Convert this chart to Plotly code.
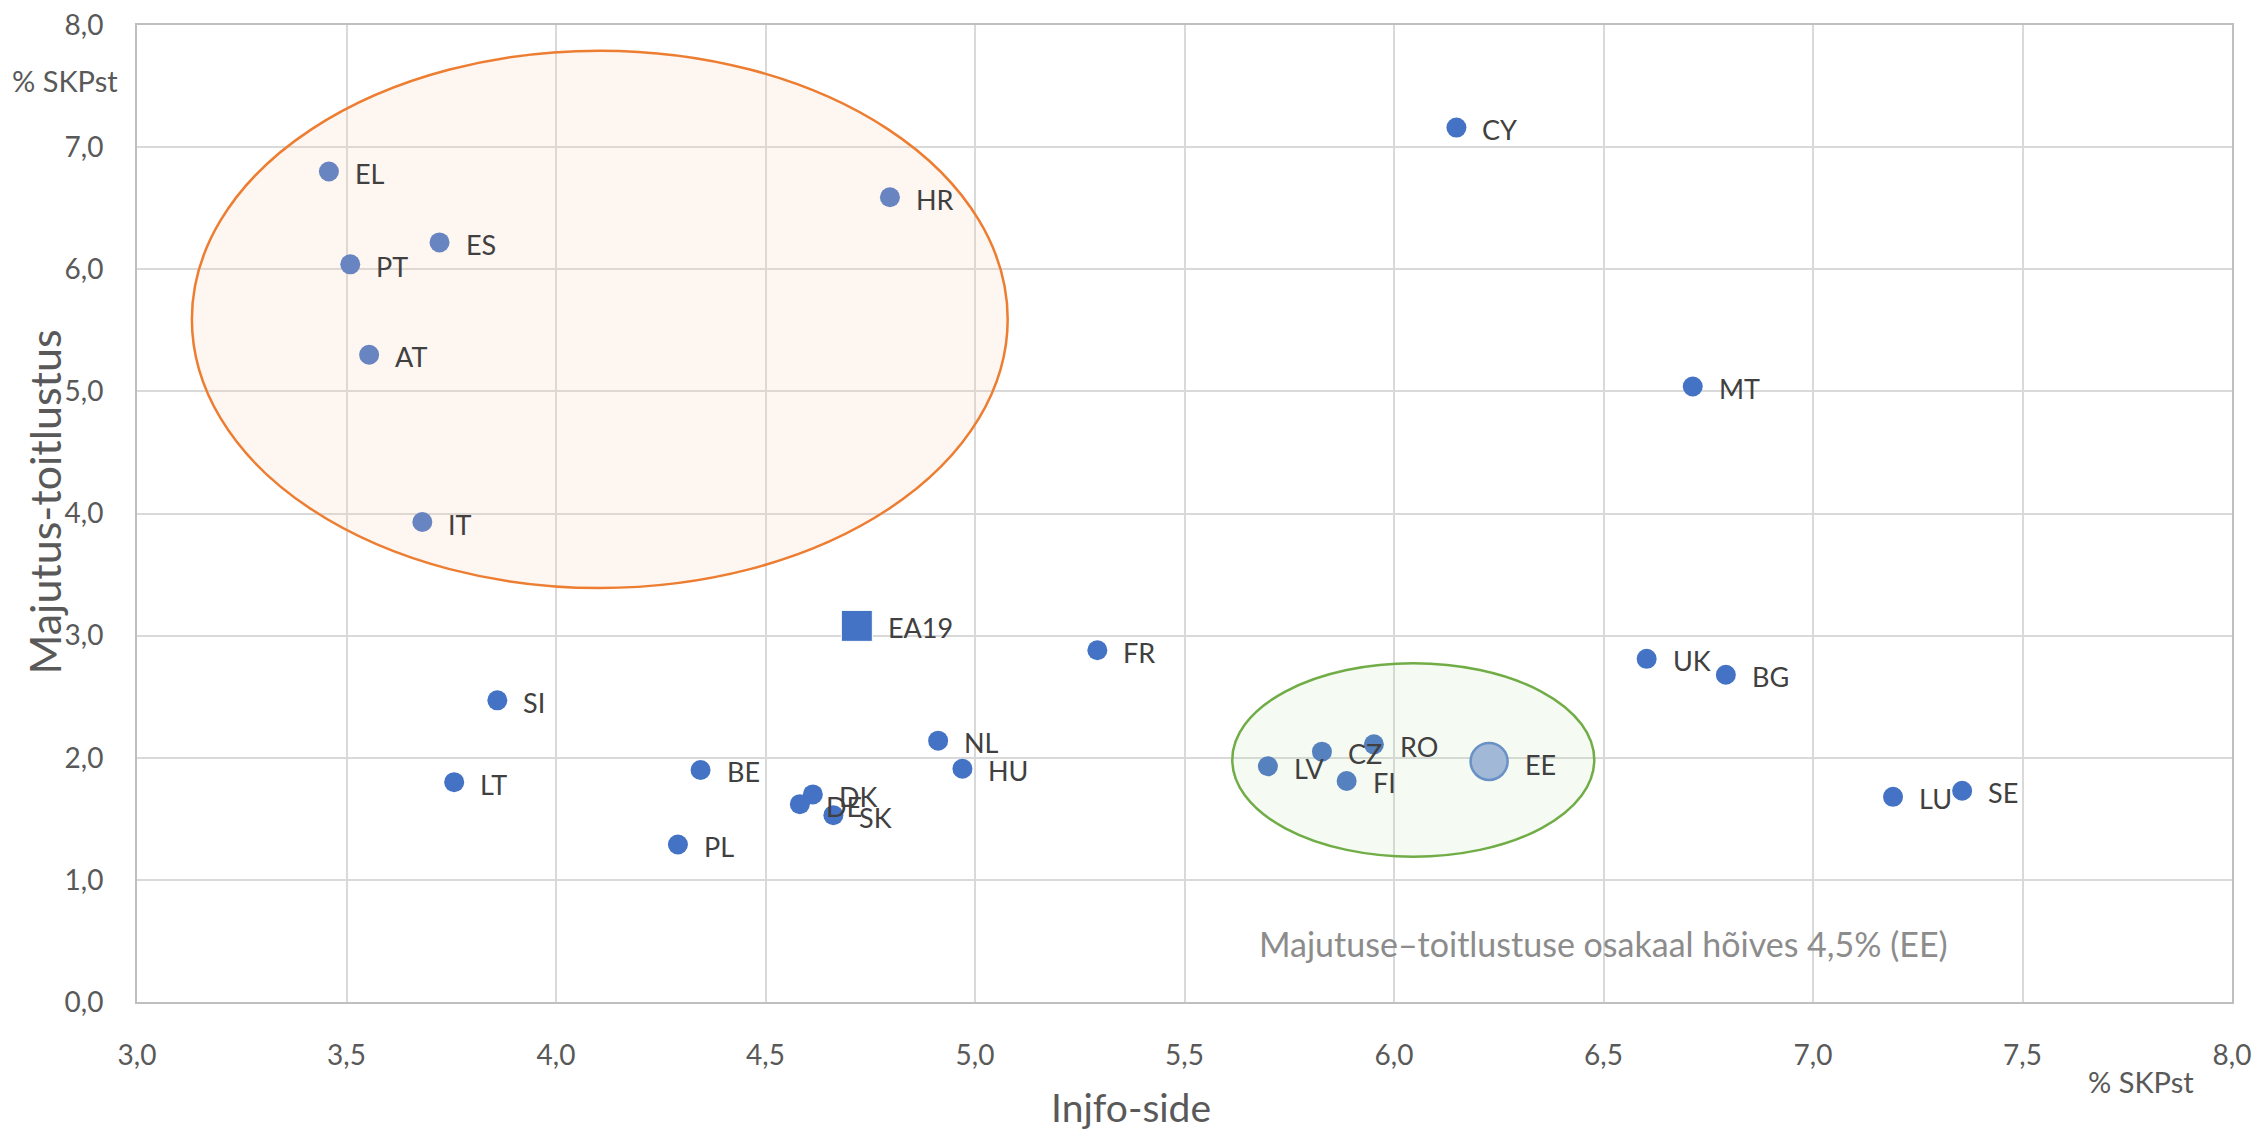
import plotly.graph_objects as go

# riigid ja väärtused (% SKPst)
riigid = ["EL", "HR", "ES", "PT", "AT", "IT", "CY", "MT", "FR", "SI", "UK", "BG",
          "NL", "BE", "HU", "LT", "DK", "DE", "SK", "PL", "LV", "CZ", "RO", "FI",
          "LU", "SE"]
info_side = [3.458, 4.797, 3.722, 3.509, 3.554, 3.681, 6.149, 6.713, 5.292, 3.860,
             6.603, 6.792, 4.912, 4.345, 4.970, 3.757, 4.613, 4.582, 4.662, 4.291,
             5.699, 5.828, 5.952, 5.887, 7.191, 7.356]
majutus = [6.80, 6.59, 6.22, 6.04, 5.30, 3.93, 7.16, 5.04, 2.88, 2.47,
           2.81, 2.68, 2.14, 1.90, 1.91, 1.80, 1.70, 1.62, 1.53, 1.29,
           1.93, 2.05, 2.11, 1.81, 1.68, 1.73]

ea_nimi = ["EA19"]
ea_x = [4.718]
ea_y = [3.08]

ee_nimi = ["EE"]
ee_x = [6.227]
ee_y = [1.97]

x_ticks = [3.0, 3.5, 4.0, 4.5, 5.0, 5.5, 6.0, 6.5, 7.0, 7.5, 8.0]
y_ticks = [0, 1, 2, 3, 4, 5, 6, 7, 8]

FONT = "Lato"
BLUE = "#4472C4"
LBL = "#404040"
GREY = "#595959"

fig = go.Figure()

fig.add_trace(go.Scatter(x=info_side, y=majutus, mode="markers",
                         marker=dict(color=BLUE, size=20, line=dict(width=0)),
                         hoverinfo="text", text=riigid, showlegend=False))
fig.add_trace(go.Scatter(x=ea_x, y=ea_y, mode="markers",
                         marker=dict(color=BLUE, size=31, symbol="square",
                                     line=dict(width=1, color="white")),
                         hoverinfo="text", text=ea_nimi, showlegend=False))
fig.add_trace(go.Scatter(x=ee_x, y=ee_y, mode="markers",
                         marker=dict(color="#9DB3DF", size=37,
                                     line=dict(width=2.5, color="#5B84CC")),
                         hoverinfo="text", text=ee_nimi, showlegend=False))

annots = []
for n, xv, yv in zip(riigid, info_side, majutus):
    annots.append(dict(x=xv, y=yv, text=n, showarrow=False, xanchor="left",
                       yanchor="middle", xshift=24, yshift=-2,
                       font=dict(family=FONT, size=27, color=LBL)))
for n, xv, yv in zip(ea_nimi, ea_x, ea_y):
    annots.append(dict(x=xv, y=yv, text=n, showarrow=False, xanchor="left",
                       yanchor="middle", xshift=29, yshift=-2,
                       font=dict(family=FONT, size=27, color=LBL)))
for n, xv, yv in zip(ee_nimi, ee_x, ee_y):
    annots.append(dict(x=xv, y=yv, text=n, showarrow=False, xanchor="left",
                       yanchor="middle", xshift=34, yshift=-3,
                       font=dict(family=FONT, size=27, color=LBL)))

annots += [
    dict(x=6.499, y=0.483, text="Majutuse\u2013toitlustuse osakaal hõives 4,5% (EE)",
         showarrow=False, xanchor="center", yanchor="middle",
         font=dict(family=FONT, size=34, color="#8C8C8C")),
    dict(xref="paper", yref="paper", x=-0.0344, y=0.943, text="% SKPst",
         showarrow=False, xanchor="center", yanchor="middle",
         font=dict(family=FONT, size=29, color=GREY)),
    dict(xref="paper", yref="paper", x=0.9566, y=-0.081, text="% SKPst",
         showarrow=False, xanchor="center", yanchor="middle",
         font=dict(family=FONT, size=29, color=GREY)),
    dict(xref="paper", yref="paper", x=-0.044, y=0.512, text="Majutus-toitlustus",
         textangle=-90, showarrow=False, xanchor="center", yanchor="middle",
         font=dict(family=FONT, size=43, color=GREY)),
    dict(xref="paper", yref="paper", x=0.4745, y=-0.1075, text="Injfo-side",
         showarrow=False, xanchor="center", yanchor="middle",
         font=dict(family=FONT, size=39, color=GREY)),
]

shapes = [
    dict(type="circle", xref="x", yref="y", x0=3.131, x1=5.078, y0=3.39, y1=7.79,
         layer="above", line=dict(color="#ED7D31", width=2.5),
         fillcolor="rgba(250,210,185,0.2)"),
    dict(type="circle", xref="x", yref="y", x0=5.614, x1=6.478, y0=1.19, y1=2.774,
         layer="above", line=dict(color="#70AD47", width=2.5),
         fillcolor="rgba(190,220,165,0.15)"),
]

# page body has an 8px margin, so the figure is a bit smaller than the window
fig.update_layout(
    width=2252, height=1121,
    margin=dict(l=129, r=28, t=17, b=127),
    plot_bgcolor="white", paper_bgcolor="white",
    font=dict(family=FONT, color=GREY),
    annotations=annots, shapes=shapes,
    xaxis=dict(range=[3, 8], tickvals=x_ticks,
               ticktext=[f"{v:.1f}".replace(".", ",") for v in x_ticks],
               showgrid=True, gridcolor="#D9D9D9", gridwidth=1.5,
               showline=True, linecolor="#BFBFBF", linewidth=2, mirror=True,
               zeroline=False, ticks="", ticklabelstandoff=27,
               ticklabeloverflow="allow", automargin=False,
               tickfont=dict(family=FONT, size=28, color=GREY)),
    yaxis=dict(range=[0, 8], tickvals=y_ticks,
               ticktext=[f"{v:.1f}".replace(".", ",") for v in y_ticks],
               showgrid=True, gridcolor="#D9D9D9", gridwidth=1.5,
               showline=True, linecolor="#BFBFBF", linewidth=2, mirror=True,
               zeroline=False, ticks="", ticklabelstandoff=26,
               ticklabeloverflow="allow", automargin=False,
               tickfont=dict(family=FONT, size=28, color=GREY)),
)

fig.write_html("out.html")
